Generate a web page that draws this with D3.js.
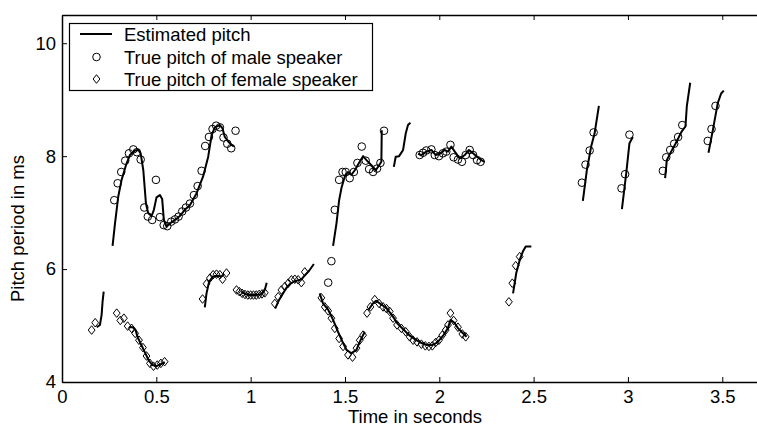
<!DOCTYPE html>
<html><head><meta charset="utf-8">
<script src="https://cdn.jsdelivr.net/npm/d3@7"></script>
<style>
html,body{margin:0;padding:0;background:#fff;}
svg{display:block;}
text{font-family:"Liberation Sans",Arial,Helvetica,sans-serif;fill:#000;}
</style></head>
<body>
<script>
// ---------- data (time in s, pitch period in ms) ----------
const xTicks = [0, 0.5, 1, 1.5, 2, 2.5, 3, 3.5];
const yTicks = [4, 6, 8, 10];
const legendLabels = ["Estimated pitch", "True pitch of male speaker", "True pitch of female speaker"];

// estimated pitch segments
const estM1 = [[0.268,6.41],[0.281,6.81],[0.298,7.28],[0.316,7.58],[0.339,7.84],[0.360,8.02],[0.387,8.10],[0.404,8.11],[0.417,8.05],[0.431,7.75],[0.445,7.16],[0.457,6.99],[0.475,6.94],[0.487,7.05],[0.501,7.27],[0.519,7.31],[0.531,7.24],[0.540,6.87],[0.554,6.75],[0.572,6.81],[0.599,6.87],[0.625,6.94],[0.651,7.05],[0.678,7.13],[0.713,7.34],[0.748,7.64],[0.775,7.99],[0.793,8.37],[0.810,8.51],[0.837,8.55],[0.851,8.49],[0.863,8.34],[0.881,8.26],[0.899,8.20],[0.911,8.17]];
const estM2 = [[1.437,6.41],[1.455,6.81],[1.469,7.22],[1.481,7.43],[1.499,7.64],[1.516,7.72],[1.534,7.67],[1.552,7.75],[1.578,7.90],[1.596,8.00],[1.614,7.93],[1.640,7.84],[1.663,7.75],[1.681,7.84],[1.693,7.90],[1.695,8.46]];
const estM3 = [[1.759,7.81],[1.769,7.99],[1.787,8.00],[1.808,8.11],[1.822,8.40],[1.834,8.55],[1.847,8.59]];
const estM4 = [[1.887,8.04],[1.905,8.02],[1.931,8.08],[1.958,8.11],[1.981,8.02],[2.002,8.04],[2.028,8.11],[2.046,8.08],[2.064,8.17],[2.082,8.08],[2.108,7.96],[2.135,8.02],[2.157,8.11],[2.179,8.05],[2.200,7.99],[2.223,7.93],[2.240,7.90]];
const estM5 = [[2.761,7.21],[2.782,7.75],[2.805,8.17],[2.823,8.40],[2.846,8.89]];
const estM6 = [[2.968,7.06],[2.991,7.70],[3.008,8.23],[3.026,8.34]];
const estM7 = [[3.197,7.61],[3.206,7.93],[3.229,8.08],[3.252,8.22],[3.282,8.42],[3.305,8.53],[3.312,8.88],[3.330,9.30]];
const estM8 = [[3.427,8.06],[3.450,8.46],[3.476,8.94],[3.494,9.11],[3.508,9.16]];
const estF1 = [[0.184,4.97],[0.201,5.01],[0.210,5.19],[0.215,5.42],[0.221,5.60]];
const estF2 = [[0.355,4.97],[0.375,4.97],[0.390,4.92],[0.400,4.80],[0.420,4.66],[0.440,4.52],[0.460,4.38],[0.480,4.30],[0.500,4.28],[0.520,4.31],[0.545,4.35]];
const estF3 = [[0.757,5.32],[0.766,5.57],[0.780,5.78],[0.801,5.87],[0.828,5.88],[0.846,5.87],[0.858,5.91]];
const estF4 = [[0.950,5.60],[0.970,5.56],[0.990,5.54],[1.010,5.54],[1.030,5.54],[1.050,5.55],[1.062,5.57],[1.075,5.63],[1.085,5.76]];
const estF5 = [[1.130,5.30],[1.150,5.45],[1.170,5.56],[1.190,5.67],[1.210,5.74],[1.230,5.78],[1.250,5.80],[1.270,5.82],[1.290,5.90],[1.310,5.97],[1.335,6.09]];
const estF6 = [[1.366,5.57],[1.384,5.39],[1.411,5.28],[1.437,5.10],[1.463,4.89],[1.490,4.69],[1.508,4.57],[1.534,4.51],[1.561,4.57],[1.578,4.71],[1.605,4.89]];
const estF7 = [[1.625,5.28],[1.650,5.40],[1.665,5.44],[1.690,5.38],[1.720,5.31],[1.750,5.18],[1.780,5.03],[1.810,4.93],[1.840,4.83],[1.870,4.76],[1.900,4.70],[1.930,4.66],[1.960,4.65],[1.990,4.70],[2.020,4.82],[2.045,4.95],[2.060,5.10],[2.080,5.05],[2.100,4.95],[2.120,4.88],[2.145,4.80]];
const estF8 = [[2.391,5.57],[2.408,5.93],[2.429,6.19],[2.443,6.31],[2.458,6.40],[2.488,6.40]];
const estimatedSegments = [estM1, estM2, estM3, estM4, estM5, estM6, estM7, estM8, estF1, estF2, estF3, estF4, estF5, estF6, estF7, estF8];

// true pitch, male speaker (circles)
const maleTrue = [
 [0.277,7.22],[0.295,7.52],[0.314,7.72],[0.335,7.92],[0.355,8.05],[0.378,8.12],[0.397,8.07],[0.417,7.94],[0.436,7.09],[0.455,6.93],[0.478,6.87],[0.498,7.58],[0.519,6.92],[0.539,6.78],[0.558,6.76],[0.579,6.84],[0.599,6.88],[0.618,6.93],[0.637,7.02],[0.657,7.09],[0.678,7.16],[0.699,7.31],[0.719,7.47],[0.740,7.74],[0.759,8.18],[0.779,8.34],[0.798,8.48],[0.817,8.54],[0.837,8.51],[0.856,8.33],[0.876,8.22],[0.897,8.14],[0.920,8.45],
 [1.411,5.76],[1.428,6.14],[1.446,7.05],[1.469,7.58],[1.487,7.72],[1.504,7.72],[1.525,7.61],[1.547,7.72],[1.566,7.88],[1.589,8.17],[1.610,7.92],[1.628,7.77],[1.649,7.72],[1.670,7.78],[1.688,7.88],[1.707,8.45],
 [1.896,8.02],[1.914,8.06],[1.931,8.10],[1.958,8.12],[1.976,8.02],[1.998,8.00],[2.019,8.05],[2.037,8.08],[2.059,8.20],[2.076,7.98],[2.099,7.94],[2.120,7.90],[2.140,8.02],[2.161,8.11],[2.179,8.02],[2.200,7.93],[2.219,7.90],
 [2.756,7.53],[2.775,7.85],[2.797,8.10],[2.818,8.42],
 [2.966,7.43],[2.985,7.68],[3.008,8.38],
 [3.185,7.74],[3.203,7.98],[3.224,8.11],[3.245,8.22],[3.266,8.34],[3.288,8.55],
 [3.423,8.27],[3.443,8.48],[3.464,8.89]
];

// true pitch, female speaker (diamonds)
const femaleTrue = [
 [0.157,4.92],[0.176,5.05],
 [0.290,5.22],[0.309,5.09],[0.328,5.13],[0.348,4.99],[0.369,4.95],[0.388,4.86],[0.408,4.74],[0.429,4.61],[0.448,4.46],[0.466,4.33],[0.485,4.28],[0.505,4.30],[0.524,4.33],[0.544,4.36],
 [0.745,5.47],[0.766,5.74],[0.784,5.84],[0.801,5.90],[0.819,5.91],[0.837,5.90],[0.851,5.82],[0.872,5.93],
 [0.925,5.63],[0.940,5.60],[0.955,5.57],[0.970,5.55],[0.985,5.54],[1.000,5.54],[1.015,5.54],[1.030,5.54],[1.045,5.55],[1.060,5.56],[1.075,5.58],
 [1.128,5.39],[1.146,5.51],[1.163,5.63],[1.181,5.69],[1.199,5.75],[1.216,5.81],[1.234,5.82],[1.252,5.81],[1.269,5.76],[1.287,5.95],
 [1.375,5.49],[1.393,5.33],[1.411,5.26],[1.428,5.13],[1.446,4.95],[1.469,4.77],[1.490,4.63],[1.516,4.48],[1.540,4.44],[1.561,4.60],[1.578,4.74],[1.596,4.83],
 [1.617,5.22],[1.635,5.33],[1.658,5.46],[1.681,5.39],[1.702,5.33],[1.720,5.30],[1.737,5.25],[1.755,5.13],[1.776,5.01],[1.799,4.95],[1.822,4.89],[1.843,4.80],[1.861,4.74],[1.882,4.71],[1.905,4.67],[1.926,4.64],[1.945,4.63],[1.963,4.64],[1.981,4.70],[1.998,4.74],[2.016,4.83],[2.034,4.92],[2.046,5.01],[2.059,5.22],[2.076,5.09],[2.099,4.97],[2.122,4.85],[2.140,4.80],
 [2.369,5.42],[2.387,5.75],[2.405,6.06],[2.426,6.22]
];

// ---------- layout ----------
const W = 757, H = 426;
const m = {left: 62, top: 15, right: 760, bottom: 382};
const svg = d3.select("body").append("svg").attr("width", W).attr("height", H);

const x = d3.scaleLinear().domain([0, 3.7]).range([m.left, m.right]);
const y = d3.scaleLinear().domain([4, 10.5]).range([m.bottom, m.top]);
const FS = 18.5;

// axes
const fmt = d3.format("~g");
const gx = svg.append("g").attr("transform", `translate(0,${m.bottom})`)
  .call(d3.axisBottom(x).tickValues(xTicks).tickFormat(fmt).tickSizeInner(-5).tickSizeOuter(0).tickPadding(8));
const gxt = svg.append("g").attr("transform", `translate(0,${m.top})`)
  .call(d3.axisTop(x).tickValues(xTicks).tickFormat("").tickSizeInner(-5).tickSizeOuter(0));
const gy = svg.append("g").attr("transform", `translate(${m.left},0)`)
  .call(d3.axisLeft(y).tickValues(yTicks).tickFormat(fmt).tickSizeInner(-5).tickSizeOuter(0).tickPadding(6));
[gx, gxt, gy].forEach(g => {
  g.select(".domain").attr("stroke", "#000").attr("stroke-width", 1.5);
  g.selectAll(".tick line").attr("stroke", "#000").attr("stroke-width", 1);
  g.selectAll(".tick text").attr("font-size", FS).attr("font-family", null).attr("fill", "#000");
});

// axis labels
svg.append("text").attr("x", (m.left + m.right) / 2 + 4).attr("y", 423).attr("text-anchor", "middle")
  .attr("font-size", FS).text("Time in seconds");
svg.append("text").attr("transform", `translate(23.5,${(m.top + m.bottom) / 2 + 30}) rotate(-90)`)
  .attr("text-anchor", "middle").attr("font-size", FS).text("Pitch period in ms");

// estimated pitch lines
const line = d3.line().x(d => x(d[0])).y(d => y(d[1]));
svg.append("g").selectAll("path").data(estimatedSegments).join("path")
  .attr("d", line).attr("fill", "none").attr("stroke", "#000").attr("stroke-width", 2)
  .attr("stroke-linejoin", "round");

// markers
svg.append("g").selectAll("circle").data(maleTrue).join("circle")
  .attr("cx", d => x(d[0])).attr("cy", d => y(d[1])).attr("r", 3.8)
  .attr("fill", "none").attr("stroke", "#000").attr("stroke-width", 1);
const diamondPath = "M0,-4.3L3.4,0L0,4.3L-3.4,0Z";
svg.append("g").selectAll("path").data(femaleTrue).join("path")
  .attr("transform", d => `translate(${x(d[0])},${y(d[1])})`).attr("d", diamondPath)
  .attr("fill", "none").attr("stroke", "#000").attr("stroke-width", 1);

// legend
const lg = svg.append("g");
lg.append("rect").attr("x", 69.5).attr("y", 23.5).attr("width", 303).attr("height", 67)
  .attr("fill", "#fff").attr("stroke", "#000").attr("stroke-width", 1.2);
const rows = [34, 57, 79];
lg.append("line").attr("x1", 80).attr("x2", 112).attr("y1", rows[0]).attr("y2", rows[0])
  .attr("stroke", "#000").attr("stroke-width", 2);
lg.append("circle").attr("cx", 96.5).attr("cy", rows[1]).attr("r", 3.8)
  .attr("fill", "none").attr("stroke", "#000");
lg.append("path").attr("transform", `translate(96.5,${rows[2]})`).attr("d", diamondPath)
  .attr("fill", "none").attr("stroke", "#000");
lg.selectAll("text.lab").data(legendLabels).join("text").attr("class", "lab")
  .attr("x", 124).attr("y", (d, i) => rows[i] + 6.5).attr("font-size", FS).text(d => d);
</script>
</body></html>
